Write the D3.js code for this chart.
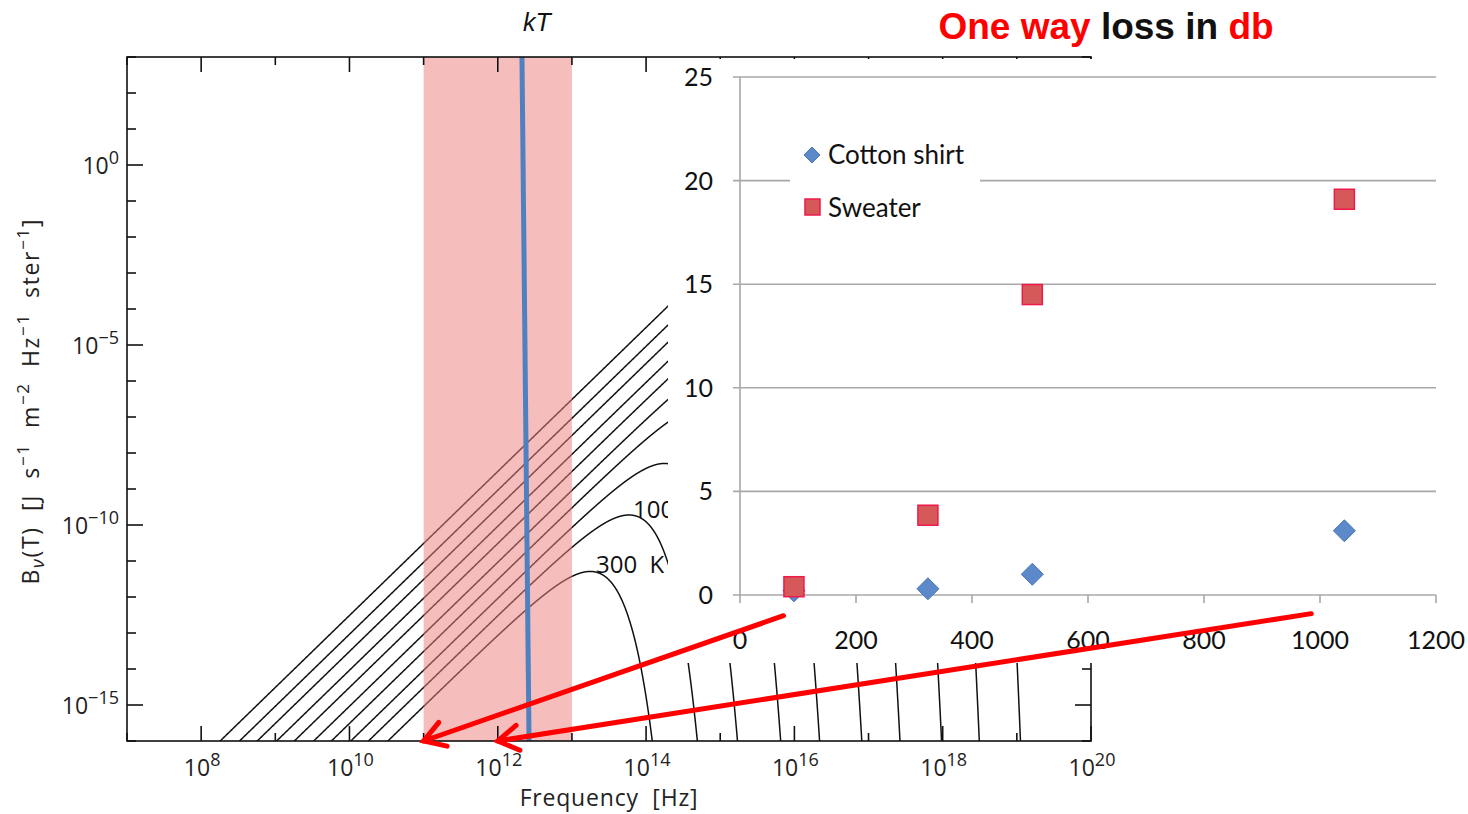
<!doctype html>
<html>
<head>
<meta charset="UTF-8">
<title>Blackbody and loss</title>
<script src="https://d3js.org/d3.v7.min.js"></script>
<style>
  body { margin: 0; background: #fff; }
  svg { display: block; }
</style>
</head>
<body>
<script>
// ---- data: blackbody panel ----
var temps = [300, 1000, 3000, 1e4, 3e4, 1e5, 3e5, 1e6, 3e6, 1e7];   // K
var labelText = ["300  K", "1000  K"];
var labelNu = [2.11e13, 6.67e13];        // Hz, left edge of label
var labelB = [4.6e-12, 1.6e-10];         // baseline level
var bandNu = [1e11, 1e13];               // pink band, Hz
var kTnu = [2.12e12, 2.64e12];           // blue kT line (top, bottom)
var xTickExp = d3.range(7, 21);           // 10^7 .. 10^20
var xLabelExp = [8, 10, 12, 14, 16, 18, 20];
var yTickExp = d3.range(-16, 4);
var yLabelExp = [0, -5, -10, -15];

// ---- data: loss panel ----
var cottonX = [93, 324, 504, 1042];
var cottonY = [0.2, 0.3, 1.0, 3.1];
var sweaterX = [93, 324, 504, 1042];
var sweaterY = [0.4, 3.85, 14.5, 19.1];
var lossXTicks = [0, 200, 400, 600, 800, 1000, 1200];
var lossYTicks = [0, 5, 10, 15, 20, 25];

// arrows from the loss panel (GHz, db) down to the frequency axis (Hz)
var arrowStartGHz = [75, 985];
var arrowStartDb = [-1.0, -0.9];
var arrowEndHz = [1e11, 1e12];

var W = 1468, H = 814;
var h = 6.626e-34, c = 2.998e8, kB = 1.381e-23;
function planck(nu, T) {
    var x = h * nu / (kB * T);
    if (x > 700) return 0;
    return 2 * h * nu * nu * nu / (c * c) / Math.expm1(x);
}

var svg = d3.select("body").append("svg").attr("width", W).attr("height", H);

var L = {x0: 127, x1: 1091, y0: 57, y1: 741};
var x = d3.scaleLog().domain([1e7, 1e20]).range([L.x0, L.x1]);
var y = d3.scaleLog().domain([1e-16, 1e3]).range([L.y1, L.y0]);

svg.append("clipPath").attr("id", "plotclip")
   .append("rect").attr("x", L.x0).attr("y", L.y0)
   .attr("width", L.x1 - L.x0).attr("height", L.y1 - L.y0);
// part of the left panel not covered by the loss panel
svg.append("clipPath").attr("id", "leftclip")
   .append("rect").attr("x", L.x0).attr("y", L.y0)
   .attr("width", 668 - L.x0).attr("height", L.y1 - L.y0);

//curves-----------------------
var nus = d3.range(0, 4001).map(function(i){ return Math.pow(10, 7 + 13 * i / 4000); });
var line = d3.line()
    .defined(function(d){ return d[1] > 1e-22; })
    .x(function(d){ return x(d[0]); })
    .y(function(d){ return y(d[1]); });

svg.append("g").attr("clip-path", "url(#plotclip)")
   .selectAll("path").data(temps).enter().append("path")
   .attr("d", function(T){
       return line(nus.map(function(n){ return [n, planck(n, T)]; }));
   })
   .attr("fill", "none").attr("stroke", "#111").attr("stroke-width", 1.5);

svg.append("g").attr("clip-path", "url(#leftclip)")
   .selectAll("text").data(labelText).enter().append("text")
   .attr("x", function(d, i){ return x(labelNu[i]); })
   .attr("y", function(d, i){ return y(labelB[i]); })
   .attr("font-family", "Open Sans").attr("font-size", 24).attr("fill", "#111")
   .attr("xml:space", "preserve")
   .text(function(d){ return d; });

//band + kT-----------------------
svg.append("rect")
   .attr("x", x(bandNu[0])).attr("y", L.y0)
   .attr("width", x(bandNu[1]) - x(bandNu[0])).attr("height", L.y1 - L.y0)
   .attr("fill", "#ee8080").attr("opacity", 0.52);

svg.append("line")
   .attr("x1", x(kTnu[0])).attr("y1", L.y0)
   .attr("x2", x(kTnu[1])).attr("y2", L.y1)
   .attr("stroke", "#4f81c0").attr("stroke-width", 5);

svg.append("text").attr("x", 537).attr("y", 31)
   .attr("text-anchor", "middle").attr("font-family", "Liberation Sans")
   .attr("font-style", "italic").attr("font-size", 25).attr("fill", "#111")
   .text("kT");

//frame + ticks-----------------------
var frame = svg.append("g").attr("stroke", "#111").attr("stroke-width", 1.6).attr("fill", "none");
frame.append("rect").attr("x", L.x0).attr("y", L.y0)
     .attr("width", L.x1 - L.x0).attr("height", L.y1 - L.y0);

xTickExp.forEach(function(e){
    var px = x(Math.pow(10, e));
    var len = (e % 2 === 0) ? 15 : 8;
    frame.append("line").attr("x1", px).attr("x2", px).attr("y1", L.y1).attr("y2", L.y1 - len);
    frame.append("line").attr("x1", px).attr("x2", px).attr("y1", L.y0).attr("y2", L.y0 + len);
});
yTickExp.forEach(function(e){
    var py = y(Math.pow(10, e));
    var len = (e % 5 === 0) ? 16 : 9;
    frame.append("line").attr("x1", L.x0).attr("x2", L.x0 + len).attr("y1", py).attr("y2", py);
    frame.append("line").attr("x1", L.x1).attr("x2", L.x1 - len).attr("y1", py).attr("y2", py);
});

function powLabel(sel, e) {
    sel.append("tspan").text("10");
    sel.append("tspan").attr("dy", -10).attr("font-size", 18).text(String(e).replace("-", "\u2212"));
}
xLabelExp.forEach(function(e){
    var t = svg.append("text").attr("x", x(Math.pow(10, e)) + 1).attr("y", 776)
       .attr("text-anchor", "middle").attr("font-family", "Open Sans")
       .attr("font-size", 23).attr("fill", "#222");
    powLabel(t, e);
});
yLabelExp.forEach(function(e){
    var t = svg.append("text").attr("x", 119).attr("y", y(Math.pow(10, e)) + 9)
       .attr("text-anchor", "end").attr("font-family", "Open Sans")
       .attr("font-size", 23).attr("fill", "#222");
    powLabel(t, e);
});

svg.append("text").attr("x", 609).attr("y", 806).attr("text-anchor", "middle")
   .attr("font-family", "Open Sans").attr("font-size", 23).attr("fill", "#222")
   .attr("letter-spacing", 0.8).attr("xml:space", "preserve")
   .text("Frequency  [Hz]");

var yl = svg.append("text").attr("transform", "translate(39,402) rotate(-90)")
   .attr("text-anchor", "middle").attr("font-family", "Open Sans")
   .attr("font-size", 23).attr("fill", "#222")
   .attr("textLength", 365).attr("lengthAdjust", "spacing").attr("xml:space", "preserve");
[["B", 0], ["\u03bd", 5], ["(T)  [J  s", -5], ["\u22121", -10], ["  m", 10], ["\u22122", -10],
 ["  Hz", 10], ["\u22121", -10], ["  ster", 10], ["\u22121", -10], ["]", 10]].forEach(function(p){
    var ts = yl.append("tspan").attr("dy", p[1]).text(p[0]);
    if (p[0] === "\u03bd") ts.attr("font-size", 18).attr("font-style", "italic");
    if (p[0].charAt(0) === "\u2212") ts.attr("font-size", 17);
});

//loss panel-----------------------
svg.append("rect").attr("x", 668).attr("y", 59).attr("width", W - 668).attr("height", 604)
   .attr("fill", "#fff");

var xr = d3.scaleLinear().domain([0, 1200]).range([740, 1436]);
var yr = d3.scaleLinear().domain([0, 25]).range([595, 77]);

var grid = svg.append("g").attr("stroke", "#a8a8a8").attr("stroke-width", 1.6);
grid.selectAll("line.h").data(lossYTicks).enter().append("line")
    .attr("x1", 733).attr("x2", xr(1200))
    .attr("y1", function(d){ return yr(d); }).attr("y2", function(d){ return yr(d); });
grid.append("line").attr("x1", xr(0)).attr("x2", xr(0)).attr("y1", yr(25)).attr("y2", yr(0));
grid.selectAll("line.t").data(lossXTicks).enter().append("line")
    .attr("x1", function(d){ return xr(d); }).attr("x2", function(d){ return xr(d); })
    .attr("y1", yr(0)).attr("y2", yr(0) + 8);

svg.selectAll("text.ry").data(lossYTicks).enter().append("text")
   .attr("x", 713).attr("y", function(d){ return yr(d) + 9; })
   .attr("text-anchor", "end").attr("font-family", "Lato").attr("font-size", 25)
   .attr("fill", "#111").text(function(d){ return d; });
svg.selectAll("text.rx").data(lossXTicks).enter().append("text")
   .attr("x", function(d){ return xr(d); }).attr("y", 649)
   .attr("text-anchor", "middle").attr("font-family", "Lato").attr("font-size", 25)
   .attr("fill", "#111").text(function(d){ return d; });

function diamond(s){ return "M0," + (-s) + "L" + s + ",0L0," + s + "L" + (-s) + ",0Z"; }

svg.selectAll("path.cot").data(cottonX).enter().append("path")
   .attr("d", diamond(11))
   .attr("transform", function(d, i){ return "translate(" + xr(d) + "," + yr(cottonY[i]) + ")"; })
   .attr("fill", "#5b89c9").attr("stroke", "#4a74b4").attr("stroke-width", 1);
svg.selectAll("rect.swe").data(sweaterX).enter().append("rect")
   .attr("x", function(d){ return xr(d) - 10; })
   .attr("y", function(d, i){ return yr(sweaterY[i]) - 10; })
   .attr("width", 20).attr("height", 20)
   .attr("fill", "#d65959").attr("stroke", "#ee1a4a").attr("stroke-width", 1.5);

// legend
svg.append("rect").attr("x", 790).attr("y", 135).attr("width", 190).attr("height", 90).attr("fill", "#fff");
svg.append("path").attr("d", diamond(8)).attr("transform", "translate(812,155)")
   .attr("fill", "#5b89c9").attr("stroke", "#4a74b4");
svg.append("rect").attr("x", 805).attr("y", 199).attr("width", 15).attr("height", 16)
   .attr("fill", "#d65959").attr("stroke", "#ee1a4a").attr("stroke-width", 1.5);
svg.append("text").attr("x", 828).attr("y", 164).attr("font-family", "Lato").attr("font-size", 26)
   .attr("fill", "#111").text("Cotton shirt");
svg.append("text").attr("x", 828).attr("y", 217).attr("font-family", "Lato").attr("font-size", 26)
   .attr("fill", "#111").text("Sweater");

var title = svg.append("text").attr("x", 1106).attr("y", 39).attr("text-anchor", "middle")
   .attr("font-family", "Liberation Sans").attr("font-weight", "bold").attr("font-size", 37)
   .attr("xml:space", "preserve");
title.append("tspan").attr("fill", "#ff0000").text("One way");
title.append("tspan").attr("fill", "#111").text(" loss in ");
title.append("tspan").attr("fill", "#ff0000").text("db");

//arrows-----------------------
var arrows = svg.append("g").attr("stroke", "#ff0000").attr("stroke-width", 5)
   .attr("stroke-linecap", "round").attr("fill", "none");
arrowEndHz.forEach(function(nu, i){
    var x1 = xr(arrowStartGHz[i]), y1 = yr(arrowStartDb[i]);
    var x2 = x(nu), y2 = L.y1;
    var a = Math.atan2(y2 - y1, x2 - x1), len = 24, sp = 0.55;
    arrows.append("line").attr("x1", x1).attr("y1", y1).attr("x2", x2).attr("y2", y2);
    arrows.append("path").attr("d",
        "M" + (x2 - len * Math.cos(a - sp)) + "," + (y2 - len * Math.sin(a - sp)) +
        "L" + x2 + "," + y2 +
        "L" + (x2 - len * Math.cos(a + sp)) + "," + (y2 - len * Math.sin(a + sp)));
});
</script>
</body>
</html>
